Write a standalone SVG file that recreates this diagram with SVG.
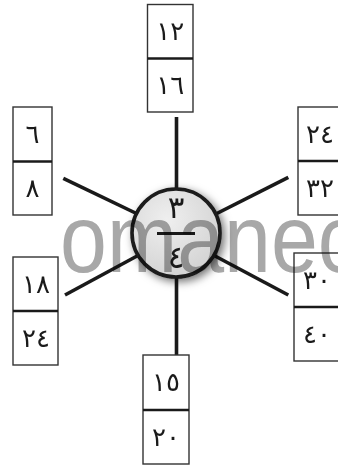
<svg xmlns="http://www.w3.org/2000/svg" width="338" height="466" viewBox="0 0 338 466">
<style>
.box{fill:#fff;stroke:#333;stroke-width:1.4}
.div{stroke:#1a1a1a;stroke-width:2.6}
.conn{stroke:#1a1a1a;stroke-width:3.6;stroke-linecap:butt;fill:none}
.num{font-family:"DejaVu Sans",sans-serif;font-size:26px;fill:#1a1a1a;text-anchor:middle;dominant-baseline:central}
.big{font-size:31px}
.wm{font-family:"Liberation Sans",Arial,sans-serif;font-size:96px;fill:#a8a8a8;mix-blend-mode:multiply}
</style>
<defs>
<radialGradient id="cg" cx="0.4" cy="0.35" r="0.7">
<stop offset="0" stop-color="#efefef"/>
<stop offset="1" stop-color="#d2d2d2"/>
</radialGradient>
<filter id="sh" x="-40%" y="-40%" width="180%" height="180%">
<feDropShadow dx="3" dy="3" stdDeviation="4" flood-color="#000" flood-opacity="0.55"/>
</filter>
</defs>
<rect width="338" height="466" fill="#fff"/>
<g id="connectors">
<line class="conn" x1="176.5" y1="117" x2="176.5" y2="200"/>
<line class="conn" x1="176.5" y1="265" x2="176.5" y2="355"/>
<line class="conn" x1="63.3" y1="178.3" x2="150" y2="220"/>
<line class="conn" x1="65" y1="295" x2="150" y2="249"/>
<line class="conn" x1="288.3" y1="177.3" x2="200" y2="222"/>
<line class="conn" x1="288.3" y1="295" x2="200" y2="248"/>
</g>
<g id="node-top">
<rect class="box" x="147.5" y="4.5" width="45.5" height="107.5"/>
<line class="div" x1="147.5" y1="58.5" x2="193" y2="58.5"/>
<text class="num" x="170.25" y="31">١٢</text>
<text class="num" x="170.25" y="85">١٦</text>
</g>
<g id="node-left-top">
<rect class="box" x="13" y="107" width="39" height="108"/>
<line class="div" x1="13" y1="161.5" x2="52" y2="161.5"/>
<text class="num" x="32.5" y="134">٦</text>
<text class="num" x="32.5" y="188">٨</text>
</g>
<g id="node-right-top">
<rect class="box" x="298" y="107" width="46" height="108"/>
<line class="div" x1="298" y1="161" x2="344" y2="161"/>
<text class="num" x="320" y="134">٢٤</text>
<text class="num" x="320" y="188">٣٢</text>
</g>
<g id="node-left-bottom">
<rect class="box" x="13" y="257" width="45" height="108"/>
<line class="div" x1="13" y1="311" x2="58" y2="311"/>
<text class="num" x="36" y="284">١٨</text>
<text class="num" x="36" y="338">٢٤</text>
</g>
<g id="node-right-bottom">
<rect class="box" x="294" y="253" width="46" height="108"/>
<line class="div" x1="294" y1="307" x2="340" y2="307"/>
<text class="num" x="317" y="280">٣٠</text>
<text class="num" x="317" y="334">٤٠</text>
</g>
<g id="node-bottom">
<rect class="box" x="143" y="355" width="46" height="109"/>
<line class="div" x1="143" y1="410" x2="189" y2="410"/>
<text class="num" x="166" y="382">١٥</text>
<text class="num" x="166" y="437">٢٠</text>
</g>
<g id="node-center">
<circle cx="176" cy="233" r="44" fill="url(#cg)" stroke="#1a1a1a" stroke-width="3.6" filter="url(#sh)"/>
<line x1="157" y1="233.5" x2="195" y2="233.5" stroke="#1a1a1a" stroke-width="3"/>
<text class="num big" x="176" y="207">٣</text>
<text class="num big" x="176" y="257">٤</text>
</g>
<text class="wm" x="60" y="272" textLength="300" lengthAdjust="spacingAndGlyphs">omanec</text>
</svg>
